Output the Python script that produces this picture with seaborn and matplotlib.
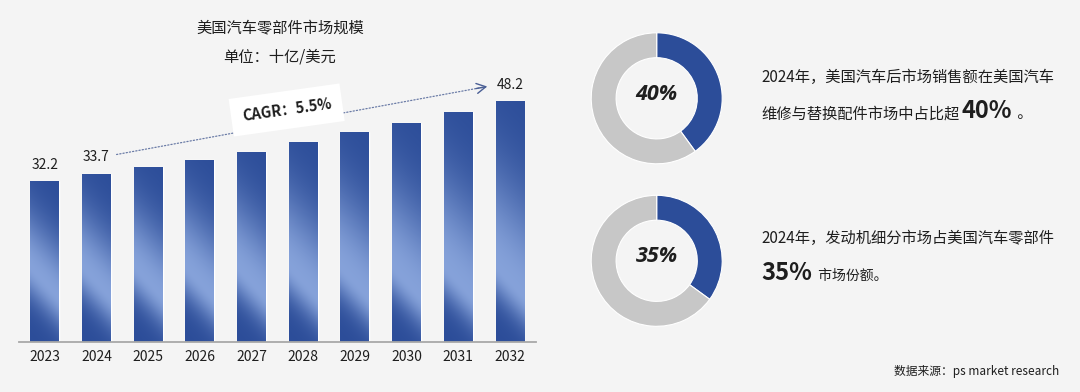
import numpy as np
import pandas as pd
import matplotlib
matplotlib.use("Agg")
import matplotlib.pyplot as plt
import seaborn as sns
from matplotlib.colors import to_rgb

# ---------------- data ----------------
years = ["2023", "2024", "2025", "2026", "2027", "2028", "2029", "2030", "2031", "2032"]
market_size = [32.2, 33.7, 35.1, 36.5, 38.0, 40.1, 42.0, 43.9, 46.1, 48.2]
labelled_years = ["2023", "2024", "2032"]
cagr_text = "CAGR：5.5%"
title_main = "美国汽车零部件市场规模"
title_unit = "单位：十亿/美元"

donut_shares = [40, 35]
donut_labels = ["40%", "35%"]
text1_line1 = "2024年，美国汽车后市场销售额在美国汽车"
text1_line2 = ["维修与替换配件市场中占比超", "40%", " 。"]
text2_line1 = "2024年，发动机细分市场占美国汽车零部件"
text2_line2 = ["35%", " 市场份额。"]
source_text = "数据来源：ps market research"

# ---------------- style ----------------
sns.set_theme(style="white")
CJK = ["Noto Sans CJK SC", "DejaVu Sans"]
plt.rcParams["font.family"] = CJK
plt.rcParams["axes.unicode_minus"] = False

BG = "#F4F4F4"
DARK = "#2C4D99"
LIGHT = "#8DA9DF"
GRAY = "#C7C7C7"
TXT = "#1E1E1E"
MW = "medium"

W, H = 1080, 392
fig = plt.figure(figsize=(W / 100, H / 100), dpi=100, facecolor=BG)


def fx(px):
    return px / W


def fy(py):
    return 1 - py / H


# ---------------- bar chart ----------------
ax = fig.add_axes([fx(18.85), fy(342), 517 / W, 332 / H])
ax.set_facecolor("none")
df = pd.DataFrame({"year": years, "value": market_size})
sns.barplot(data=df, x="year", y="value", ax=ax, color=DARK, width=0.56,
            saturation=1, errorbar=None)

dark = np.array(to_rgb(DARK))
light = np.array(to_rgb(LIGHT))
for p in ax.patches:
    x0, y0, w, h = p.get_x(), p.get_y(), p.get_width(), p.get_height()
    ny, nx = 300, 30
    yy = np.linspace(y0, y0 + h, ny)[:, None]
    xf = np.linspace(0, 1, nx)[None, :]
    yeff = yy + 6.0 * (xf - 0.5)
    peak = 12.0
    sig_lo = 6.0
    sig_hi = max((h - peak) * 0.55, 5)
    d = yeff - peak
    lvl = np.where(d < 0, np.exp(-(d / sig_lo) ** 2), np.exp(-(d / sig_hi) ** 2))
    lvl = 0.92 * lvl
    img = dark[None, None, :] * (1 - lvl[..., None]) + light[None, None, :] * lvl[..., None]
    im = ax.imshow(img, extent=[x0, x0 + w, y0, y0 + h], origin="lower",
                   aspect="auto", zorder=p.get_zorder() + 0.1, interpolation="bilinear")
    im.set_clip_path(p)

ax.set_xlim(-0.5, len(years) - 0.5)
ax.set_ylim(0, 332 / 5)
for s in ["left", "right", "top"]:
    ax.spines[s].set_visible(False)
ax.spines["bottom"].set_color("#A8A8A8")
ax.spines["bottom"].set_linewidth(1.3)
ax.set_yticks([])
ax.set_xlabel("")
ax.set_ylabel("")
ax.tick_params(axis="x", length=0, pad=5.5, labelsize=10, labelcolor=TXT)
for lab in ax.get_xticklabels():
    lab.set_fontweight(MW)

for i, (yr, v) in enumerate(zip(years, market_size)):
    if yr in labelled_years:
        ax.annotate(f"{v:.1f}", xy=(i, v), xytext=(0, 6.5), textcoords="offset points",
                    ha="center", va="bottom", fontsize=10, color=TXT, fontweight=MW)

# CAGR dotted arrow
start = np.array([1 + 0.39, market_size[1] + 3.8])
end = np.array([len(years) - 1 - 0.44, market_size[-1] + 2.9])
ax.annotate("", xy=end, xytext=start,
            arrowprops=dict(arrowstyle="-", color="#6A7BA6", lw=0.9,
                            linestyle=(0, (1, 1.6)), shrinkA=0, shrinkB=0))
back = end - 0.03 * (end - start)
ax.annotate("", xy=end, xytext=back,
            arrowprops=dict(arrowstyle="->,head_length=0.55,head_width=0.3",
                            color="#4A5F95", lw=1.0, shrinkA=0, shrinkB=0))
ax.text(4.68, 46.4, cagr_text, ha="center", va="center", rotation=8,
        fontsize=10.5, fontweight="bold", color=TXT, zorder=5,
        bbox=dict(boxstyle="square,pad=0.75", facecolor="white", edgecolor="none"))

fig.text(fx(280), fy(29), title_main, ha="center", va="center", fontsize=11, color=TXT,
         fontweight=MW)
fig.text(fx(280), fy(57), title_unit, ha="center", va="center", fontsize=11, color=TXT,
         fontweight=MW)

# ---------------- donuts ----------------
centers = [(656.7, 98.3), (656.7, 260.8)]
R = 65.5
for (cx, cy), share, lab in zip(centers, donut_shares, donut_labels):
    dax = fig.add_axes([fx(cx - R), fy(cy + R), 2 * R / W, 2 * R / H])
    dax.pie([share, 100 - share], colors=[DARK, GRAY], startangle=90, counterclock=False,
            wedgeprops=dict(width=0.38, edgecolor="white", linewidth=0.8))
    dax.set_xlim(-1, 1)
    dax.set_ylim(-1, 1)
    dax.set_aspect("equal")
    dax.axis("off")
    dax.text(0, 0.06, lab, ha="center", va="center", fontsize=15.5, fontweight="bold",
             fontstyle="italic", family=["Open Sans", "DejaVu Sans"], color=TXT)

# ---------------- right text ----------------
fig.text(fx(761.7), fy(81.5), text1_line1, ha="left", va="baseline", fontsize=11, color=TXT,
         fontweight=MW)
fig.text(fx(761.7), fy(243), text2_line1, ha="left", va="baseline", fontsize=11, color=TXT,
         fontweight=MW)

fig.canvas.draw()
renderer = fig.canvas.get_renderer()


def run_line(x_px, base_px, segments):
    x = x_px
    for s, size, weight in segments:
        t = fig.text(fx(x), fy(base_px), s, ha="left", va="baseline", fontsize=size,
                     fontweight=weight, color=TXT)
        bb = t.get_window_extent(renderer)
        x = x + bb.width + 2


run_line(761.7, 118.3, [(text1_line2[0], 11, MW), (text1_line2[1], 17, "bold"),
                        (text1_line2[2], 11, MW)])
run_line(761.7, 279.5, [(text2_line2[0], 17, "bold"), (text2_line2[1], 10, MW)])

fig.text(fx(1059), fy(371), source_text, ha="right", va="center", fontsize=8.5, color=TXT,
         fontweight=MW)

fig.savefig("out.png", dpi=100, facecolor=BG)
